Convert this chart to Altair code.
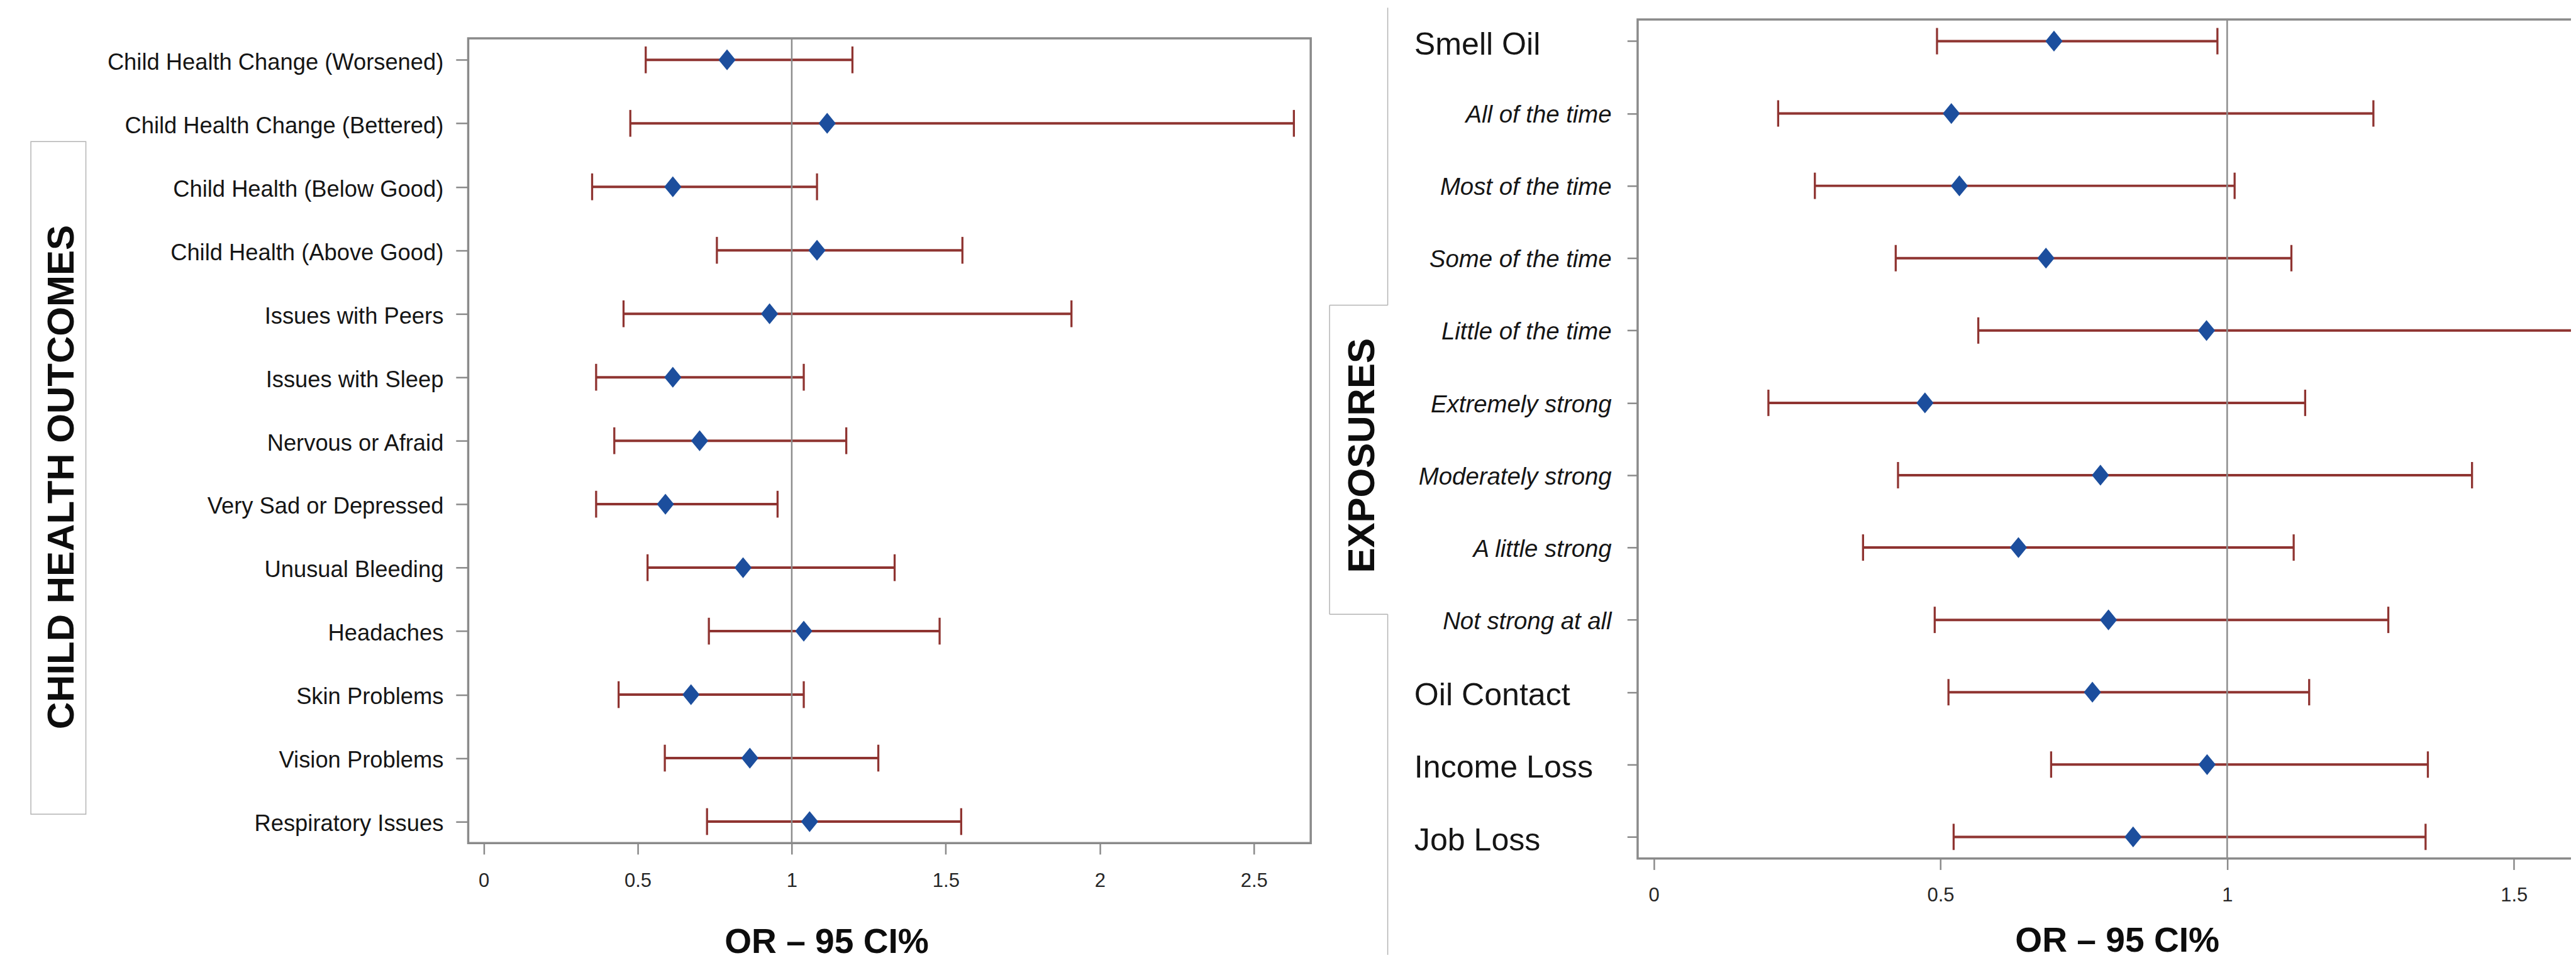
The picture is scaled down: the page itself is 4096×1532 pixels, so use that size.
import altair as alt
import pandas as pd

S = 0.985
FONT = "Liberation Sans"
FRAME = "#8a8a8a"
BAR = "#8f3431"
DOT = "#1c4e9d"
DECO = "#b4b4b4"
TXT = "#151515"
DIAMOND = "M0,-1.22L1,0L0,1.22L-1,0Z"

# ---------------- data ----------------
outcomes = [
    "Child Health Change (Worsened)", "Child Health Change (Bettered)",
    "Child Health (Below Good)", "Child Health (Above Good)",
    "Issues with Peers", "Issues with Sleep", "Nervous or Afraid",
    "Very Sad or Depressed", "Unusual Bleeding", "Headaches",
    "Skin Problems", "Vision Problems", "Respiratory Issues",
]
out_or = [0.79, 1.115, 0.614, 1.082, 0.928, 0.614, 0.701, 0.59, 0.842, 1.039, 0.673, 0.864, 1.058]
out_lo = [0.526, 0.476, 0.352, 0.757, 0.454, 0.365, 0.424, 0.365, 0.532, 0.731, 0.438, 0.588, 0.725]
out_hi = [1.197, 2.63, 1.082, 1.554, 1.908, 1.039, 1.177, 0.954, 1.334, 1.48, 1.039, 1.281, 1.55]

exposures = [
    "Smell Oil", "All of the time", "Most of the time", "Some of the time",
    "Little of the time", "Extremely strong", "Moderately strong",
    "A little strong", "Not strong at all", "Oil Contact", "Income Loss", "Job Loss",
]
exp_main = [True, False, False, False, False, False, False, False, False, True, True, True]
exp_or = [0.698, 0.519, 0.533, 0.684, 0.964, 0.473, 0.779, 0.636, 0.793, 0.765, 0.965, 0.836]
exp_lo = [0.494, 0.217, 0.281, 0.422, 0.566, 0.2, 0.426, 0.365, 0.49, 0.514, 0.693, 0.523]
exp_hi = [0.983, 1.255, 1.013, 1.112, 1.75, 1.136, 1.427, 1.116, 1.281, 1.143, 1.35, 1.346]

x_title = "OR – 95 CI%"
left_group = "CHILD HEALTH OUTCOMES"
right_group = "EXPOSURES"
left_ticks = [0, 0.5, 1, 1.5, 2, 2.5]
right_ticks = [0, 0.5, 1, 1.5]
null_value = [1.0]

left_df = pd.DataFrame({"outcome": outcomes, "or": out_or, "lo": out_lo, "hi": out_hi})
right_df = pd.DataFrame({"exposure": exposures, "main": exp_main, "or": exp_or, "lo": exp_lo, "hi": exp_hi})
ref_df = pd.DataFrame({"or": null_value})
one = pd.DataFrame({"k": [0]})

# ---------------- sizes ----------------
WL, HL = 1362 * S, 1301.6 * S
WR, HR = 1497.63, 1357 * S

# ---------------- left panel ----------------
xs_L = alt.Scale(domain=[-0.0502, 2.6847], nice=False, zero=False)
ax_xL = alt.Axis(
    title=x_title, values=left_ticks, format="~g", grid=False, domain=False,
    ticks=True, tickSize=17.7, tickWidth=2.5, tickColor=FRAME,
    labelFont=FONT, labelFontSize=31, labelColor="#262626", labelPadding=28.0,
    labelFlush=False,
    titleFont=FONT, titleFontSize=55.2, titleFontWeight="bold", titleColor="#0d0d0d",
    titleX=570.3, titleY=174.4, titleAlign="center", titleBaseline="alphabetic",
)
def xL(f):
    return alt.X(f, type="quantitative", scale=xs_L, axis=ax_xL)

ax_yL = alt.Axis(
    title=left_group, domain=False, ticks=True, tickSize=19.7, tickWidth=2.5,
    tickColor=FRAME, labelFont=FONT, labelFontSize=36.4, labelColor=TXT,
    labelPadding=20.0, labelLimit=1500, labelAlign="right", labelBaseline="middle",
    labelOffset=3.9,
    titleFont=FONT, titleFontSize=60.1, titleFontWeight="bold", titleColor="#0d0d0d",
    titleAngle=270, titleX=-646.7, titleY=698.6, titleAlign="center", titleBaseline="middle",
)
yL = alt.Y("outcome:N", sort=outcomes, scale=alt.Scale(type="point", padding=0.339), axis=ax_yL)

l_ref = alt.Chart(ref_df).mark_rule(color="#8c8c8c", strokeWidth=2.5).encode(x=xL("or"))
l_bar = alt.Chart(left_df).mark_rule(color=BAR, strokeWidth=4).encode(x=xL("lo"), x2="hi", y=yL)
l_cap1 = alt.Chart(left_df).mark_tick(color=BAR, size=42.7, thickness=3.3, orient="vertical", opacity=1).encode(x=xL("lo"), y=yL)
l_cap2 = alt.Chart(left_df).mark_tick(color=BAR, size=42.7, thickness=3.3, orient="vertical", opacity=1).encode(x=xL("hi"), y=yL)
l_pt = alt.Chart(left_df).mark_point(shape=DIAMOND, filled=True, size=745, color=DOT, opacity=1).encode(x=xL("or"), y=yL)
l_box = alt.Chart(one).mark_rect(fillOpacity=0, stroke=DECO, strokeWidth=1.5).encode(
    x=alt.value(-696.4), x2=alt.value(-608.8), y=alt.value(164.5), y2=alt.value(1236.1)
)

left = alt.layer(l_box, l_bar, l_ref, l_cap1, l_cap2, l_pt).properties(width=WL, height=HL)

spacer = alt.Chart(one).mark_point(opacity=0).properties(
    width=WL, height=26.22, view=alt.ViewBackground(stroke="transparent", strokeWidth=0)
)

# ---------------- right panel ----------------
xs_R = alt.Scale(domain=[-0.02805, 1.6121], nice=False, zero=False)
ax_xR = alt.Axis(
    title=x_title, values=right_ticks, format="~g", grid=False, domain=False,
    ticks=True, tickSize=17.7, tickWidth=2.5, tickColor=FRAME,
    labelFont=FONT, labelFontSize=31, labelColor="#262626", labelPadding=25.6,
    labelFlush=False,
    titleFont=FONT, titleFontSize=55.2, titleFontWeight="bold", titleColor="#0d0d0d",
    titleX=763.3, titleY=147.8, titleAlign="center", titleBaseline="alphabetic",
)
def xR(f):
    return alt.X(f, type="quantitative", scale=xs_R, axis=ax_xR)

ax_yR = alt.Axis(
    title=right_group, labels=False, domain=False, ticks=True, tickSize=16.7,
    tickWidth=2.5, tickColor=FRAME,
    titleFont=FONT, titleFontSize=60.1, titleFontWeight="bold", titleColor="#0d0d0d",
    titleAngle=270, titleX=-438.5, titleY=694.2, titleAlign="center", titleBaseline="middle",
)
yR = alt.Y("exposure:N", sort=exposures, scale=alt.Scale(type="point", padding=0.299), axis=ax_yR)

r_ref = alt.Chart(ref_df).mark_rule(color="#8c8c8c", strokeWidth=2.5).encode(x=xR("or"))
r_bar = alt.Chart(right_df).mark_rule(color=BAR, strokeWidth=4, clip=True).encode(x=xR("lo"), x2="hi", y=yR)
r_cap1 = alt.Chart(right_df).mark_tick(color=BAR, size=42.0, thickness=3.3, orient="vertical", opacity=1, clip=True).encode(x=xR("lo"), y=yR)
r_cap2 = alt.Chart(right_df).mark_tick(color=BAR, size=42.0, thickness=3.3, orient="vertical", opacity=1, clip=True).encode(x=xR("hi"), y=yR)
r_pt = alt.Chart(right_df).mark_point(shape=DIAMOND, filled=True, size=745, color=DOT, opacity=1).encode(x=xR("or"), y=yR)

r_main = alt.Chart(right_df).transform_filter("datum.main").mark_text(
    align="left", baseline="middle", font=FONT, fontSize=50.2, color=TXT, dy=6.2
).encode(y=yR, x=alt.value(-355.6), text="exposure:N")
r_sub = alt.Chart(right_df).transform_filter("!datum.main").mark_text(
    align="right", baseline="middle", font=FONT, fontSize=38.4, fontStyle="italic", color=TXT, dy=2.7
).encode(y=yR, x=alt.value(-41.4), text="exposure:N")

xa, xb = -397.94, -490.53
y0, y1, y2, y3 = -18.83, 455.07, 947.57, 1490.0
def vseg(x, ya, yb):
    return alt.Chart(one).mark_rule(color=DECO, strokeWidth=1.5).encode(
        x=alt.value(x), y=alt.value(ya), y2=alt.value(yb))
def hseg(xa_, xb_, y):
    return alt.Chart(one).mark_rule(color=DECO, strokeWidth=1.5).encode(
        x=alt.value(xa_), x2=alt.value(xb_), y=alt.value(y))

bracket = [vseg(xa, y0, y1), hseg(xb, xa, y1), vseg(xb, y1, y2), hseg(xb, xa, y2), vseg(xa, y2, y3)]

right = alt.layer(*bracket, r_bar, r_ref, r_cap1, r_cap2, r_pt, r_main, r_sub).properties(width=WR, height=HR)

chart = alt.hconcat(
    alt.vconcat(spacer, left, spacing=0),
    right,
    spacing=24.09,
).properties(
    padding={"left": 38.53, "top": 0, "right": -13.75, "bottom": 0},
    background="white",
).configure_view(stroke=FRAME, strokeWidth=3.5)

chart.save("out.html", embed_options={"renderer": "svg", "actions": False})
